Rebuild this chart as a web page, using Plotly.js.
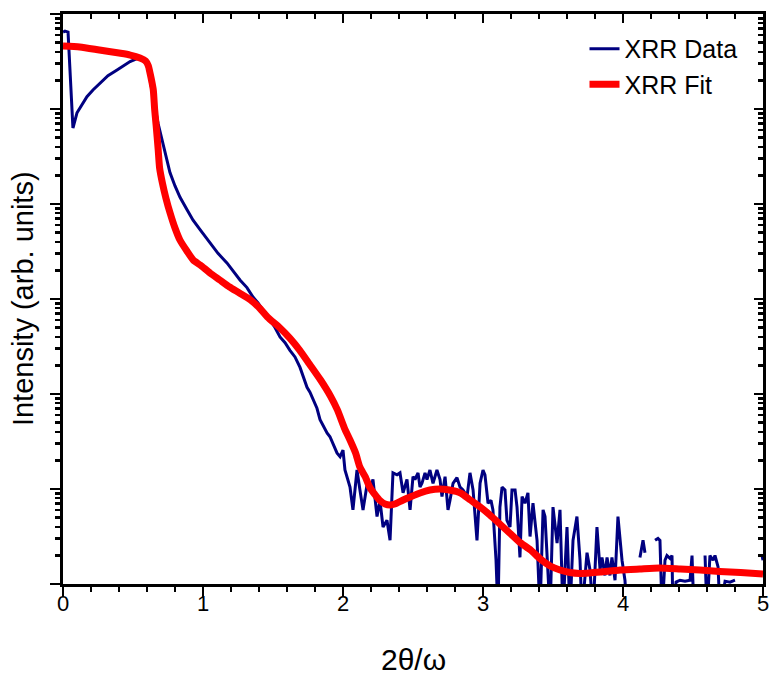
<!DOCTYPE html>
<html>
<head>
<meta charset="utf-8">
<script src="https://cdn.plot.ly/plotly-3.0.1.min.js"></script>
<style>html,body{margin:0;padding:0;background:#fff;}#chart{width:770px;height:675px;}</style>
</head>
<body>
<div id="chart"></div>
<script>
// XRR measured data: 2θ/ω (deg) and log10 of intensity (arb. units); null = no count (gap)
const dataX = [0.000,0.014,0.036,0.071,0.1,0.136,0.171,0.214,0.264,0.321,0.386,0.443,0.479,0.529,0.564,0.593,0.614,0.629,0.643,0.657,0.679,0.707,0.736,0.764,0.8,0.836,0.886,0.929,0.979,1.05,1.107,1.171,1.214,1.264,1.314,1.357,1.393,1.429,1.479,1.514,1.55,1.586,1.621,1.657,1.693,1.714,1.743,1.764,1.786,1.814,1.836,1.857,1.886,1.907,1.929,1.957,1.979,2.0,2.014,2.029,2.05,2.071,2.1,2.121,2.143,2.171,2.193,2.214,2.243,2.264,2.286,2.314,2.336,2.357,2.386,2.407,2.429,2.457,2.479,2.5,2.514,2.536,2.55,2.564,2.586,2.6,2.621,2.643,2.671,2.693,2.707,2.729,2.75,2.764,2.786,2.814,2.836,2.857,2.886,2.907,2.929,2.957,2.979,3.0,3.014,3.036,3.057,3.071,3.093,3.107,3.121,3.136,3.157,3.171,3.193,3.207,3.229,3.243,3.264,3.279,3.3,3.321,3.336,3.357,3.386,3.407,3.429,3.443,3.457,3.479,3.5,3.529,3.55,3.571,3.6,3.621,3.643,3.671,3.693,3.707,3.743,3.764,3.786,3.814,3.836,3.85,3.871,3.886,3.907,3.921,3.943,3.964,3.993,4.014,4.029,4.07,4.121,4.143,4.157,4.19,4.229,4.25,4.264,4.279,4.3,4.314,4.336,4.35,4.357,4.379,4.407,4.443,4.479,4.493,4.507,4.55,4.586,4.6,4.621,4.643,4.657,4.679,4.693,4.729,4.764,4.8,4.85,4.993,5.0];
const dataLogI = [5.81,5.82,5.81,4.8,4.96,5.05,5.13,5.2,5.27,5.35,5.41,5.46,5.5,5.53,5.52,5.48,5.39,5.25,5.12,5.02,4.85,4.67,4.5,4.33,4.19,4.07,3.94,3.83,3.73,3.59,3.48,3.38,3.3,3.2,3.12,3.02,2.96,2.88,2.78,2.7,2.6,2.54,2.46,2.39,2.28,2.2,2.07,2.02,1.94,1.85,1.73,1.67,1.59,1.55,1.48,1.38,1.34,1.41,1.2,1.13,1.02,0.78,1.2,0.99,0.78,1.04,0.99,1.1,0.71,0.88,0.6,0.67,0.46,1.17,1.15,1.17,0.96,1.1,0.78,1.13,1.1,1.17,1.02,1.06,1.17,1.1,1.2,1.06,1.2,1.1,0.92,1.13,0.78,0.88,1.06,1.12,1.02,0.99,0.92,1.17,0.99,0.46,1.06,1.2,1.15,0.85,0.88,0.78,0.25,-0.3,0.81,1.02,0.99,0.67,0.6,0.99,0.99,0.81,0.28,0.92,0.85,0.96,0.5,0.85,0.46,-0.3,0.78,0.71,0.36,-0.3,0.81,0.43,0.78,-0.3,0.6,-0.3,0.46,0.71,0.25,-0.3,0.33,0.15,-0.3,0.6,0.15,0.28,0.09,0.28,0.09,0.28,0.04,0.71,0.25,0.04,-0.3,null,0.28,0.46,0.33,null,0.46,0.48,0.46,-0.3,0.25,0.3,0.27,0.3,-0.3,0.02,0.04,0.03,0.04,0.3,-0.3,null,0.3,-0.3,0.3,0.25,0.3,0.18,-0.3,0.03,0.02,0.04,null,0.3,0.25];

// XRR model fit
const fitX = [0,0.12,0.26,0.4,0.48,0.55,0.59,0.61,0.62,0.635,0.645,0.655,0.665,0.68,0.69,0.71,0.735,0.765,0.8,0.835,0.885,0.93,0.98,1.05,1.12,1.19,1.26,1.34,1.41,1.46,1.55,1.62,1.69,1.76,1.84,1.91,1.96,2.01,2.05,2.09,2.12,2.16,2.19,2.23,2.26,2.3,2.34,2.37,2.43,2.48,2.55,2.62,2.69,2.76,2.84,2.91,2.98,3.05,3.12,3.19,3.26,3.34,3.41,3.48,3.55,3.62,3.69,3.76,3.84,3.98,4.12,4.26,4.41,4.55,4.69,4.84,5.0];
const fitLogI = [5.663,5.653,5.621,5.589,5.568,5.537,5.505,5.453,5.389,5.284,5.2,4.989,4.832,4.568,4.379,4.221,4.063,3.905,3.747,3.621,3.505,3.411,3.358,3.274,3.2,3.126,3.063,2.989,2.895,2.811,2.695,2.589,2.463,2.316,2.147,1.979,1.832,1.642,1.516,1.379,1.232,1.126,1.021,0.937,0.884,0.842,0.832,0.842,0.884,0.916,0.958,0.989,1.0,0.989,0.958,0.884,0.811,0.726,0.632,0.537,0.442,0.358,0.263,0.189,0.147,0.121,0.111,0.116,0.126,0.147,0.158,0.168,0.158,0.147,0.132,0.121,0.105];

const seriesNames = ['XRR Data', 'XRR Fit'];
const xTickVals = [0, 1, 2, 3, 4, 5];
const xTickText = ['0', '1', '2', '3', '4', '5'];
const xTitle = '2θ/ω';
const yTitle = 'Intensity (arb. units)';

const toLinear = a => a.map(v => v === null ? null : Math.pow(10, v));
const FONT = 'Liberation Sans, Arial, Helvetica, sans-serif';

const traces = [
  {x: dataX, y: toLinear(dataLogI), name: seriesNames[0], type: 'scatter', mode: 'lines',
   line: {color: '#000080', width: 3}, connectgaps: false},
  {x: fitX, y: toLinear(fitLogI), name: seriesNames[1], type: 'scatter', mode: 'lines',
   line: {color: '#ff0000', width: 7, shape: 'spline', smoothing: 0.6}},
  {x: [null], y: [null], xaxis: 'x2', yaxis: 'y2', showlegend: false, hoverinfo: 'skip', mode: 'lines'}
];

const tickLabelAnnotations = xTickVals.map((v, i) => ({
  text: xTickText[i], xref: 'x', yref: 'paper', x: v, y: -0.035, xanchor: 'center', yanchor: 'middle',
  showarrow: false, font: {size: 22, family: FONT, color: '#000'}
}));

const layout = {
  width: 770, height: 675,
  margin: {l: 63, r: 7, t: 14, b: 91},
  paper_bgcolor: '#fff', plot_bgcolor: '#fff',
  font: {family: FONT, color: '#000'},
  showlegend: true,
  legend: {x: 0.745, y: 0.979, xanchor: 'left', yanchor: 'top', bgcolor: 'rgba(0,0,0,0)',
           font: {size: 25, family: FONT, color: '#000'}},
  xaxis: {
    range: [0, 5], dtick: 1, ticks: 'outside', ticklen: 10, tickwidth: 2.5, tickcolor: '#000',
    showline: true, linecolor: '#000', linewidth: 3, showgrid: false, zeroline: false, showticklabels: false,
    minor: {dtick: 0.2, ticks: 'outside', ticklen: 5, tickwidth: 2.5, tickcolor: '#000', showgrid: false}
  },
  yaxis: {
    type: 'log', range: [0, 6], dtick: 1, ticks: 'outside', ticklen: 10, tickwidth: 2.5, tickcolor: '#000',
    showline: true, linecolor: '#000', linewidth: 3, showgrid: false, zeroline: false, showticklabels: false,
    minor: {dtick: 'D1', ticks: 'outside', ticklen: 5, tickwidth: 2.5, tickcolor: '#000', showgrid: false}
  },
  xaxis2: {
    overlaying: 'x', side: 'top', range: [0, 5], dtick: 1, ticks: 'inside', ticklen: 9, tickwidth: 2.5, tickcolor: '#000',
    showline: true, linecolor: '#000', linewidth: 3, showgrid: false, zeroline: false, showticklabels: false,
    minor: {dtick: 0.2, ticks: 'inside', ticklen: 5, tickwidth: 2.5, tickcolor: '#000', showgrid: false}
  },
  yaxis2: {
    overlaying: 'y', side: 'right', type: 'log', range: [0, 6], dtick: 1, ticks: 'inside', ticklen: 9, tickwidth: 2.5, tickcolor: '#000',
    showline: true, linecolor: '#000', linewidth: 3, showgrid: false, zeroline: false, showticklabels: false,
    minor: {dtick: 'D1', ticks: 'inside', ticklen: 5, tickwidth: 2.5, tickcolor: '#000', showgrid: false}
  },
  annotations: tickLabelAnnotations.concat([
    {text: xTitle, xref: 'paper', yref: 'paper', x: 0.5, y: -0.133, xanchor: 'center', yanchor: 'middle',
     showarrow: false, font: {size: 30, family: FONT, color: '#000'}},
    {text: yTitle, xref: 'paper', yref: 'paper', x: -0.057, y: 0.5, xanchor: 'center', yanchor: 'middle',
     textangle: -90, showarrow: false, font: {size: 29, family: FONT, color: '#000'}}
  ])
};

Plotly.newPlot('chart', traces, layout, {displayModeBar: false, staticPlot: true});
</script>
</body>
</html>
